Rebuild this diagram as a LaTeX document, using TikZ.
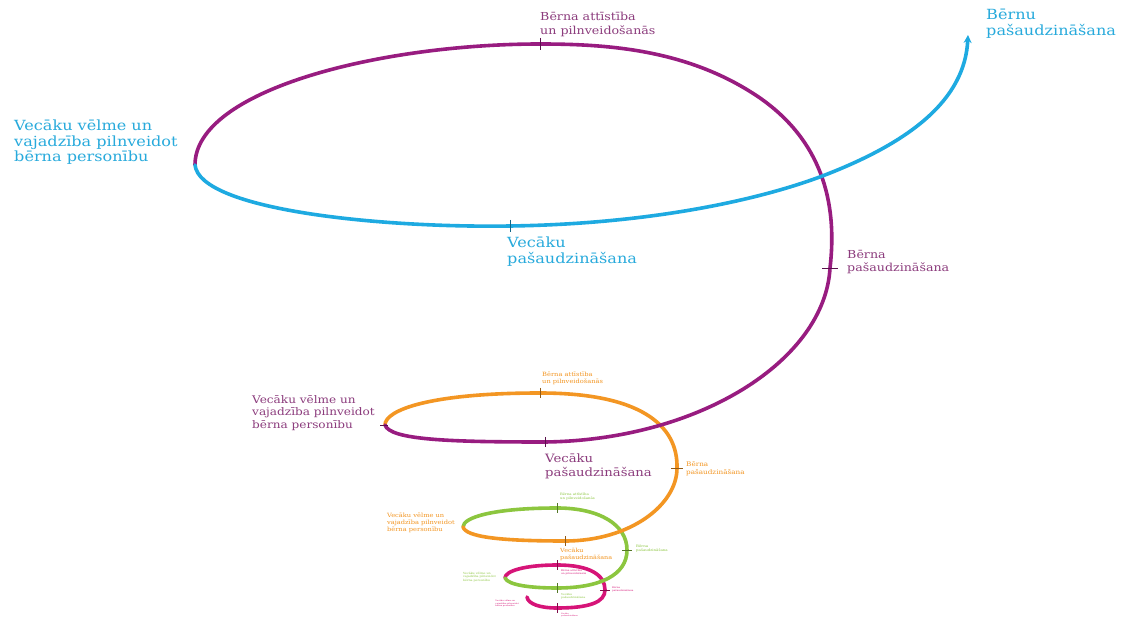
\documentclass[tikz,border=0pt]{standalone}
\usepackage{fontspec}
\setmainfont{DejaVu Serif}
\newfontfamily\labelfont[FakeStretch=1.15]{DejaVu Serif}
\usetikzlibrary{arrows.meta}

\definecolor{plum}{RGB}{152,28,128}
\definecolor{sky}{RGB}{30,170,225}
\definecolor{amber}{RGB}{243,150,35}
\definecolor{lime}{RGB}{140,198,63}
\definecolor{rose}{RGB}{214,20,120}
\definecolor{plumtxt}{RGB}{140,60,125}
\definecolor{skytxt}{RGB}{40,170,220}

\newcommand{\fs}[2]{\labelfont\fontsize{#1}{#2}\selectfont}

\begin{document}
\begin{tikzpicture}[x=1pt,y=-1pt,
  turn/.style={line width=3.6pt, line cap=round},
  vtick/.style={line width=0.9pt},
  htick/.style={line width=0.9pt},
  lbl/.style={anchor=north west, inner sep=0pt, align=left},
  lblr/.style={anchor=north east, inner sep=0pt, align=left}]

\fill[white] (0,0) rectangle (1128,620);
\useasboundingbox (0,0) rectangle (1128,620);

% key points of the spiral, from the innermost turn outwards
\coordinate (s0)  at (527,597);
\coordinate (e5b) at (557,608);
\coordinate (e4r) at (605,590);
\coordinate (e4t) at (557,565);
\coordinate (e4l) at (505,578);
\coordinate (e4b) at (557,588);
\coordinate (e3r) at (627,550);
\coordinate (e3t) at (557,508);
\coordinate (e3l) at (463,527);
\coordinate (e3b) at (565,541);
\coordinate (e2r) at (677,468);
\coordinate (e2t) at (540,393);
\coordinate (e2l) at (385,425);
\coordinate (e2b) at (545,442);
\coordinate (e1r) at (830,268);
\coordinate (e1x) at (760,98);
\coordinate (e1t) at (540,44);
\coordinate (e1l) at (195,165);
\coordinate (e1b) at (510,226);
\coordinate (e1c) at (825,175);
\coordinate (tip) at (968,35);

% innermost turn
\draw[turn, rose] (s0) .. controls (528,604) and (540,608) .. (e5b)
  .. controls (590,608) and (605,602) .. (e4r)
  .. controls (605,575) and (590,565) .. (e4t)
  .. controls (525,565) and (505,571) .. (e4l);

\draw[turn, lime] (e4l) .. controls (508,585) and (530,588) .. (e4b)
  .. controls (600,588) and (627,575) .. (e3r)
  .. controls (627,525) and (600,508) .. (e3t)
  .. controls (495,508) and (463,517) .. (e3l);

\draw[turn, amber] (e3l) .. controls (466,537) and (500,541) .. (e3b)
  .. controls (630,541) and (677,505) .. (e2r)
  .. controls (678,425) and (640,393) .. (e2t)
  .. controls (430,393) and (385,410) .. (e2l);

\draw[turn, plum] (e2l) .. controls (390,440) and (450,442) .. (e2b)
  .. controls (700,440) and (825,360) .. (e1r)
  .. controls (838,200) and (820,140) .. (e1x)
  .. controls (690,50) and (610,44) .. (e1t)
  .. controls (380,44) and (195,90) .. (e1l);

\draw[turn, sky, -{Stealth[length=8pt,width=8pt]}] (e1l) .. controls (200,210) and (380,228) .. (e1b)
  .. controls (650,224) and (760,200) .. (e1c)
  .. controls (910,142) and (965,100) .. (tip);

% ticks marking the labelled points
\draw[vtick, plum!60!black] ([yshift=6pt]e1t) -- ([yshift=-6pt]e1t);
\draw[htick, plum!60!black] ([xshift=-8pt]e1r) -- ([xshift=8pt]e1r);
\draw[vtick, sky!60!black] ([yshift=6pt]e1b) -- ([yshift=-6pt]e1b);
\draw[vtick, amber!60!black] ([yshift=5pt]e2t) -- ([yshift=-5pt]e2t);
\draw[htick, amber!60!black] ([xshift=-6pt]e2r) -- ([xshift=6pt]e2r);
\draw[vtick, plum!60!black] ([yshift=5pt]e2b) -- ([yshift=-5pt]e2b);
\draw[htick, plum!60!black] ([xshift=-5pt]e2l) -- ([xshift=3pt]e2l);
\draw[vtick, lime!60!black] ([yshift=5pt]e3t) -- ([yshift=-5pt]e3t);
\draw[htick, lime!60!black] ([xshift=-5pt]e3r) -- ([xshift=5pt]e3r);
\draw[vtick, amber!60!black] ([yshift=5pt]e3b) -- ([yshift=-5pt]e3b);
\draw[vtick, rose!60!black] ([yshift=5pt]e4t) -- ([yshift=-5pt]e4t);
\draw[htick, rose!60!black] ([xshift=-5pt]e4r) -- ([xshift=5pt]e4r);
\draw[vtick, lime!60!black] ([yshift=5pt]e4b) -- ([yshift=-5pt]e4b);
\draw[vtick, rose!60!black] ([yshift=5pt]e5b) -- ([yshift=-5pt]e5b);

% outer turn labels
\node[lbl, text=plumtxt, font={\fs{11}{13.5}}] (t1) at (540,12) {Bērna attīstība\\un pilnveidošanās};
\node[lbl, text=skytxt, font={\fs{14}{15.5}}] (t0) at (986,9) {Bērnu\\pašaudzināšana};
\node[lbl, text=skytxt, font={\fs{14}{15.5}}] (l1) at (14,120) {Vecāku vēlme un\\vajadzība pilnveidot\\bērna personību};
\node[lbl, text=skytxt, font={\fs{14}{15.5}}] (b1) at (507,237) {Vecāku\\pašaudzināšana};
\node[lbl, text=plumtxt, font={\fs{11}{13}}] (r1) at (847,250) {Bērna\\pašaudzināšana};

% second turn labels
\node[lblr, text=plumtxt, font={\fs{10.5}{12.5}}] (l2) at (375,395) {Vecāku vēlme un\\vajadzība pilnveidot\\bērna personību};
\node[lbl, text=amber, font={\fs{5.8}{6.8}}] (t2) at (542,372) {Bērna attīstība\\un pilnveidošanās};
\node[lbl, text=plumtxt, font={\fs{11.5}{13.5}}] (b2) at (545,454) {Vecāku\\pašaudzināšana};
\node[lbl, text=amber, font={\fs{6.3}{7.5}}] (r2) at (686,462) {Bērna\\pašaudzināšana};

% third turn labels
\node[lblr, text=amber, font={\fs{5.8}{7}}] (l3) at (455,513) {Vecāku vēlme un\\vajadzība pilnveidot\\bērna personību};
\node[lbl, text=lime, font={\fs{3.3}{4}}] (t3) at (560,493) {Bērna attīstība\\un pilnveidošanās};
\node[lbl, text=amber, font={\fs{5.6}{6.6}}] (b3) at (560,548) {Vecāku\\pašaudzināšana};
\node[lbl, text=lime, font={\fs{3.4}{4.2}}] (r3) at (636,545) {Bērna\\pašaudzināšana};

% fourth turn labels
\node[lblr, text=lime, font={\fs{2.8}{3.4}}] (l4) at (496,572) {Vecāku vēlme un\\vajadzība pilnveidot\\bērna personību};
\node[lbl, text=rose, font={\fs{2.4}{3}}] (t4) at (561,569) {Bērna attīstība\\un pilnveidošanās};
\node[lbl, text=lime, font={\fs{2.6}{3.2}}] (b4) at (561,593) {Vecāku\\pašaudzināšana};
\node[lbl, text=rose, font={\fs{2.3}{2.9}}] (r4) at (612,587) {Bērna\\pašaudzināšana};

% innermost labels
\node[lblr, text=rose, font={\fs{2}{2.5}}] (l5) at (519,600) {Vecāku vēlme un\\vajadzība pilnveidot\\bērna personību};
\node[lbl, text=rose, font={\fs{1.8}{2.2}}] (b5) at (561,613) {Vecāku\\pašaudzināšana};

\end{tikzpicture}
\end{document}
